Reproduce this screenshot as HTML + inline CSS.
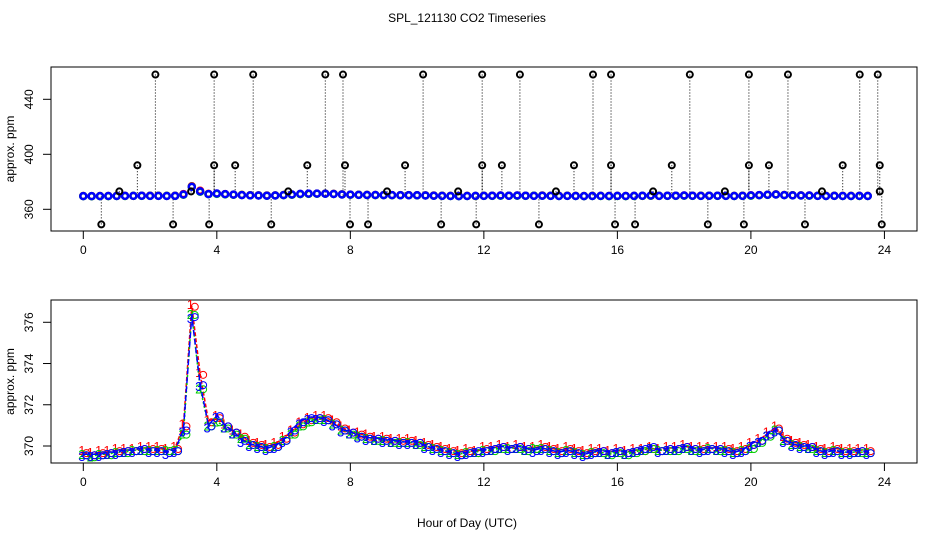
<!DOCTYPE html>
<html><head><meta charset="utf-8"><style>
body{margin:0;background:#fff}
svg{display:block;font-family:"Liberation Sans",sans-serif}
</style></head><body>
<svg id="c" width="936" height="540">
<text x="467" y="22" text-anchor="middle" font-size="12">SPL_121130  CO2 Timeseries</text>
<text x="467" y="527" text-anchor="middle" font-size="12">Hour of Day (UTC)</text>
</svg>
<script>
const hours=[];for(let i=0;i<=94;i++)hours.push(i*0.25);
const series1=[369.7,369.6,369.7,369.7,369.8,369.8,369.8,369.9,369.9,369.9,369.8,369.9,371.0,376.8,373.5,371.2,371.4,371.0,370.7,370.5,370.2,370.1,370.0,370.1,370.4,370.7,371.1,371.3,371.4,371.4,371.2,370.9,370.7,370.6,370.5,370.4,370.4,370.3,370.3,370.3,370.2,370.1,370.0,369.9,369.8,369.7,369.8,369.7,369.9,369.9,370.0,369.9,370.0,369.9,369.9,370.0,369.9,369.8,369.9,369.8,369.7,369.8,369.8,369.7,369.8,369.7,369.8,369.8,369.9,369.8,369.9,369.9,370.0,369.9,369.9,369.9,369.9,369.9,369.8,369.9,370.1,370.3,370.6,370.9,370.4,370.2,370.1,370.0,369.9,369.8,369.9,369.8,369.8,369.8,369.8];
const series2=[369.6,369.5,369.6,369.6,369.7,369.7,369.8,369.8,369.8,369.8,369.8,369.8,370.6,376.4,372.8,371.0,371.2,370.9,370.6,370.4,370.1,370.0,369.9,370.0,370.3,370.6,371.0,371.2,371.3,371.3,371.1,370.8,370.6,370.5,370.4,370.3,370.3,370.2,370.2,370.2,370.1,370.0,369.9,369.8,369.7,369.6,369.7,369.7,369.8,369.8,369.9,369.9,369.9,369.8,369.9,369.9,369.8,369.7,369.8,369.7,369.6,369.7,369.7,369.6,369.7,369.6,369.7,369.8,369.9,369.8,369.8,369.8,369.9,369.8,369.8,369.9,369.8,369.8,369.7,369.8,369.9,370.2,370.5,370.8,370.3,370.1,370.0,369.9,369.8,369.7,369.8,369.7,369.7,369.7,369.7];
const series3=[369.6,369.6,369.6,369.7,369.7,369.8,369.8,369.9,369.8,369.8,369.7,369.8,370.8,376.3,373.0,371.0,371.5,371.0,370.7,370.3,370.1,370.0,369.9,370.0,370.3,370.8,371.2,371.4,371.4,371.3,371.1,370.8,370.7,370.5,370.4,370.4,370.3,370.3,370.2,370.2,370.2,370.0,369.9,369.8,369.7,369.6,369.7,369.8,369.8,369.9,370.0,369.9,370.0,369.9,369.8,369.9,369.8,369.7,369.8,369.7,369.6,369.7,369.8,369.7,369.8,369.7,369.8,369.9,370.0,369.8,369.9,369.9,370.0,369.9,369.8,369.9,369.9,369.8,369.7,369.8,370.1,370.3,370.6,370.8,370.3,370.1,370.0,370.0,369.8,369.7,369.8,369.7,369.7,369.8,369.7];
const spikeHours=[2.16,3.92,5.09,7.25,7.78,10.18,11.95,13.08,15.27,15.81,18.17,19.94,21.11,23.26,23.80,1.62,3.92,4.55,6.71,7.84,9.64,11.95,12.54,14.70,15.81,17.63,19.94,20.54,22.75,23.86,0.54,2.69,3.77,5.63,7.99,8.53,10.72,11.77,13.65,15.93,16.53,18.71,19.79,21.62,23.92,1.08,3.23,6.14,9.10,11.23,14.16,17.07,19.22,22.13,23.86];
const spikeValues=[458,458,458,458,458,458,458,458,458,458,458,458,458,458,458,392,392,392,392,392,392,392,392,392,392,392,392,392,392,392,349,349,349,349,349,349,349,349,349,349,349,349,349,349,349,373,373,373,373,373,373,373,373,373,373];
const xTicks=[0,4,8,12,16,20,24];
const topYTicks=[360,400,440];
const botYTicks=[370,372,374,376];

const svg=document.getElementById('c');const NS='http://www.w3.org/2000/svg';
function el(t,a,p){const e=document.createElementNS(NS,t);for(const k in a)e.setAttribute(k,a[k]);(p||svg).appendChild(e);return e;}
const L=51,R=917;
const xs=h=>83.3+h*33.38;
const yTop=v=>209.3-(v-360)*1.375;
const yBot=v=>446-(v-370)*20.62;

function panel(name,top,bot,yf,yt){
  const g=el('g',{});
  
  
  const b=el('rect',{x:L,y:top,width:R-L,height:bot-top,fill:'none',stroke:'#000'},g);
  
  const xa=el('g',{},g);
  
  for(const t of xTicks){el('line',{x1:xs(t),x2:xs(t),y1:bot,y2:bot+8,stroke:'#000'},xa);
    const tx=el('text',{x:xs(t),y:bot+23,'text-anchor':'middle','font-size':12},xa);tx.textContent=t;
    }
  el('line',{x1:xs(0),x2:xs(24),y1:bot,y2:bot,stroke:'#000'},xa);
  const ya=el('g',{},g);
  
  for(const t of yt){const y=yf(t);el('line',{x1:L-8,x2:L,y1:y,y2:y,stroke:'#000'},ya);
    const tx=el('text',{x:0,y:0,'text-anchor':'middle','font-size':12,transform:`translate(${L-18},${y}) rotate(-90)`},ya);tx.textContent=t;
    }
  const yl=el('text',{x:0,y:0,'text-anchor':'middle','font-size':12,transform:`translate(14,${(top+bot)/2}) rotate(-90)`},g);
  yl.textContent='approx. ppm';
  
  return g;
}
const gT=panel('top-panel',67,231,yTop,topYTicks);
const gB=panel('bottom-panel',300,463,yBot,botYTicks);

spikeHours.forEach((h,i)=>{
  const x=xs(h),y=yTop(spikeValues[i]);
  el('line',{x1:x,x2:x,y1:y,y2:yTop(370),stroke:'#000','stroke-dasharray':'1,2'},gT);
});
const cols=['#f00','#0c0','#00f'];
[series1,series2,series3].forEach((s,k)=>{
  s.forEach((v,i)=>{
    const c=el('circle',{cx:xs(hours[i]),cy:yTop(v),r:3,fill:'none',stroke:cols[k],'stroke-width':2.5},gT);
    
  });
});
spikeHours.forEach((h,i)=>{
  const c=el('circle',{cx:xs(h),cy:yTop(spikeValues[i]),r:3,fill:'none',stroke:'#000','stroke-width':2},gT);
  
});
[series1,series2,series3].forEach((s,k)=>{
  const pts=s.map((v,i)=>xs(hours[i])+','+yBot(v)).join(' ');
  const pl=el('polyline',{points:pts,fill:'none',stroke:cols[k],'stroke-width':1.5,'stroke-dasharray':k==2?'6,3':(k==1?'2,2':'4,2')},gB);
  
  s.forEach((v,i)=>{
    const x=xs(hours[i]),y=yBot(v);
    const c=el('circle',{cx:x+3,cy:y+1,r:3.5,fill:'none',stroke:cols[k],'stroke-width':1},gB);
    
    const t=el('text',{x:x-5,y:y+5+(k-1)*2,'font-size':13,fill:cols[k]},gB);t.textContent=String(k+1);
    
  });
});
</script>
</body></html>
